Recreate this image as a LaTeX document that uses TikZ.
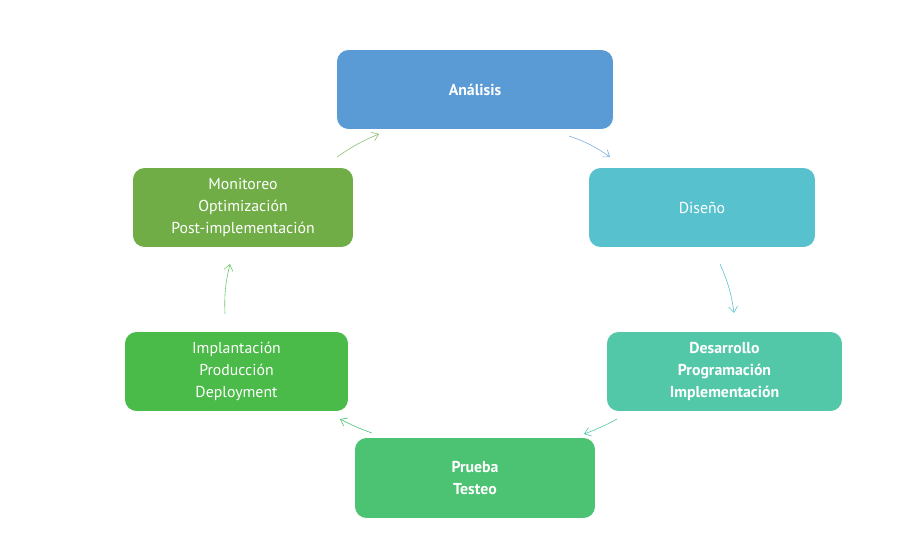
\documentclass[tikz,border=0pt]{standalone}
\usepackage{fontspec}
\setmainfont{PT Sans}
\usetikzlibrary{arrows.meta}
\definecolor{cAna}{HTML}{5B9BD5}
\definecolor{cDis}{HTML}{57C2CE}
\definecolor{cDes}{HTML}{52C8A8}
\definecolor{cPru}{HTML}{4CC373}
\definecolor{cImp}{HTML}{4ABA48}
\definecolor{cMon}{HTML}{71AD47}
\tikzset{
  phase/.style={draw=white, line width=0.8pt, rounded corners=12pt, text=white,
    align=center, inner sep=0pt, font=\fontsize{15.8}{22}\selectfont},
  boldphase/.style={phase, font=\fontsize{15.8}{22}\selectfont\bfseries},
  flow/.style={-{Straight Barb[length=6pt,width=9pt]}, line width=0.6pt}
}
\begin{document}
\begin{tikzpicture}[x=1pt,y=-1pt]
\useasboundingbox (0,0) rectangle (908,544);
\node[boldphase, fill=cAna, minimum width=277pt, minimum height=80pt] (ana) at (475,89.5) {Análisis};
\node[phase, fill=cDis, minimum width=227pt, minimum height=80pt] (dis) at (702,207.5) {Diseño};
\node[boldphase, fill=cDes, minimum width=236pt, minimum height=80pt] (des) at (724.5,371.5) {Desarrollo\\Programación\\Implementación};
\node[boldphase, fill=cPru, minimum width=241pt, minimum height=81pt] (pru) at (475,478) {Prueba\\Testeo};
\node[phase, fill=cImp, minimum width=224pt, minimum height=80pt] (imp) at (236.5,371.5) {Implantación\\Producción\\Deployment};
\node[phase, fill=cMon, minimum width=221pt, minimum height=80pt] (mon) at (243,207.5) {Monitoreo\\Optimización\\Post-implementación};
% free arrow ends
\coordinate (a1) at (569,136); \coordinate (a2) at (610,157);
\coordinate (b1) at (720,264); \coordinate (b2) at (734,313);
\coordinate (c1) at (617,419); \coordinate (c2) at (584,434);
\coordinate (d1) at (372,433); \coordinate (d2) at (340,419);
\coordinate (e1) at (225,314); \coordinate (e2) at (230,264);
\coordinate (f1) at (337,157); \coordinate (f2) at (379,134);
\draw[flow, draw=cAna!80] (a1) to[bend left=8] (a2);
\draw[flow, draw=cDis] (b1) to[bend left=8] (b2);
\draw[flow, draw=cDes] (c1) to[bend left=4] (c2);
\draw[flow, draw=cPru] (d1) to[bend left=4] (d2);
\draw[flow, draw=cImp!80] (e1) to[bend left=8] (e2);
\draw[flow, draw=cMon!80] (f1) to[bend left=6] (f2);
\end{tikzpicture}
\end{document}
